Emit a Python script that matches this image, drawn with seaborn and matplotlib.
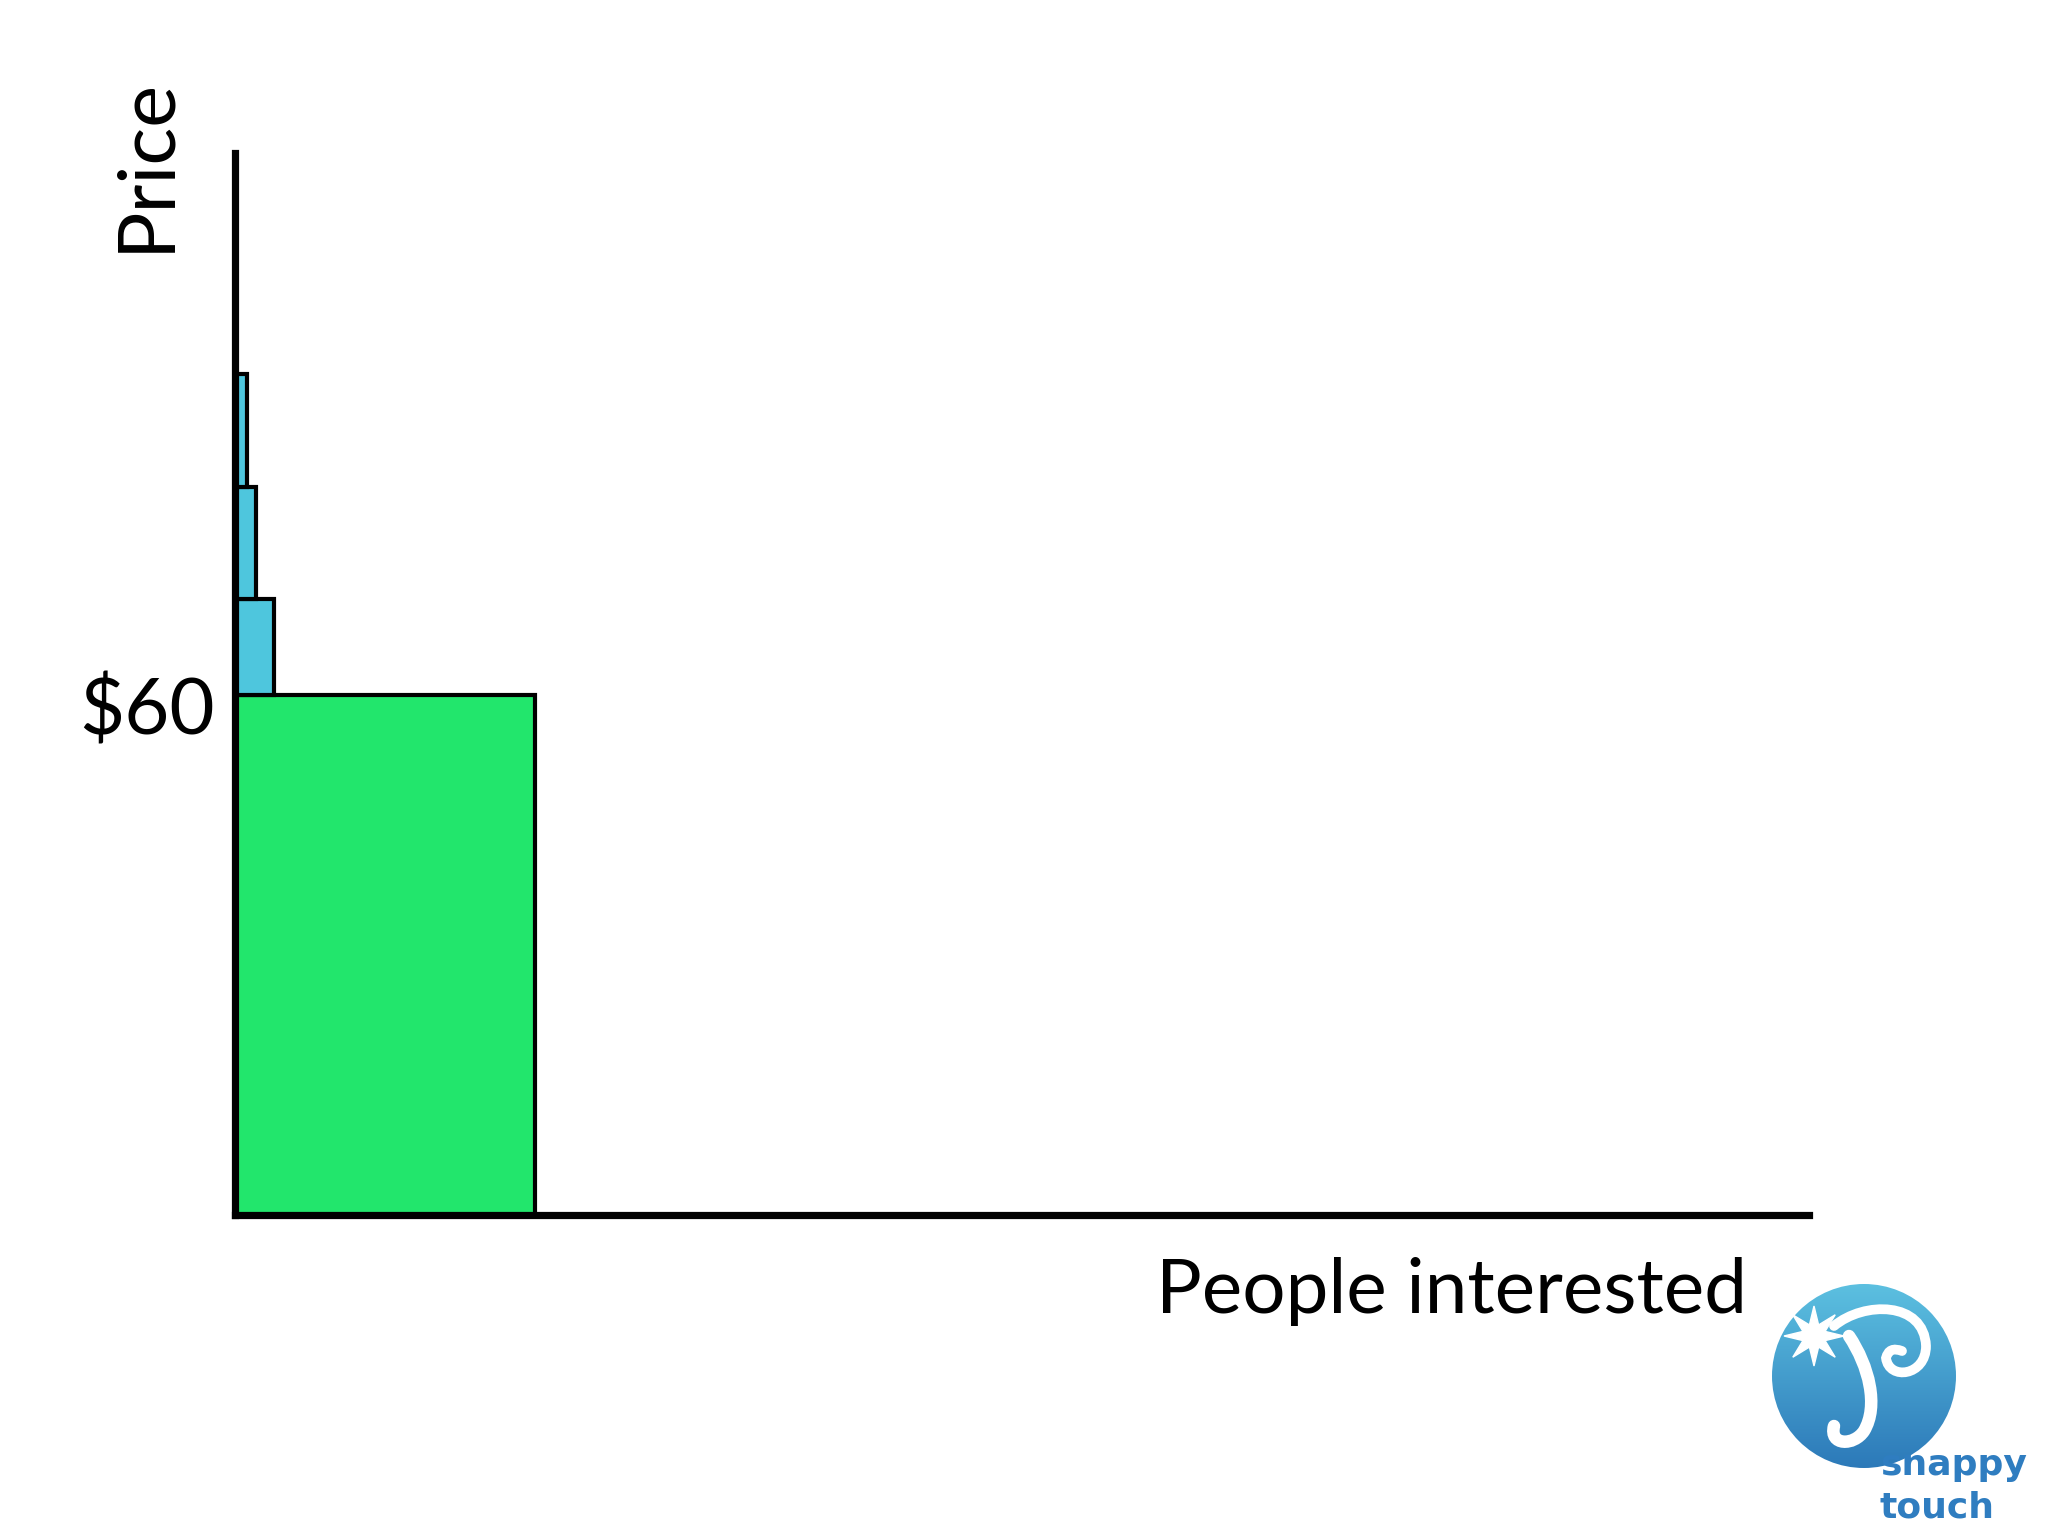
import numpy as np
import matplotlib
matplotlib.use("Agg")
import matplotlib.pyplot as plt
import seaborn as sns
from matplotlib.patches import Circle, Polygon, PathPatch
from matplotlib.path import Path

sns.set_theme(style="white")
plt.rcParams['font.family'] = ['Lato', 'DejaVu Sans']

# price bands (bottom/top) and how many people are interested in each
people = [100, 13, 7, 4]
price_low = [0, 60, 71, 84]
price_high = [60, 71, 84, 97]
band_colors = ['#22E66C', '#4EC6DD', '#4EC6DD', '#4EC6DD']
price_label = '$60'
price_label_value = 60

fig = plt.figure(figsize=(20.48, 15.36), dpi=100)
ax = fig.add_axes([0.1147, 0.2090, 0.7686, 0.6914])

heights = np.array(price_high) - np.array(price_low)
ax.bar(np.zeros(len(people)), heights, width=people, bottom=price_low,
       align='edge', color=band_colors, edgecolor='black', linewidth=3.0, zorder=2)

ax.set_xlim(0, 525)
ax.set_ylim(0, 122.5)
ax.set_xticks([])
ax.set_yticks([])
for side in ['top', 'right']:
    ax.spines[side].set_visible(False)
for side in ['left', 'bottom']:
    ax.spines[side].set_color('black')
    ax.spines[side].set_linewidth(5.2)
    ax.spines[side].set_zorder(3)

ax.text(-0.013, price_label_value - 2, price_label, transform=ax.get_yaxis_transform(),
        ha='right', va='center', fontsize=56, color='black')
fig.text(146 / 2048, 1 - 165 / 1536, 'Price', rotation=90, ha='center', va='center',
         fontsize=57, color='black')
fig.text(1747 / 2048, 1 - 1291 / 1536, 'People interested', ha='right', va='center',
         fontsize=55, color='black')

# snappy touch logo, bottom right
lax = fig.add_axes([1764 / 2048, 1 - 1476 / 1536, 200 / 2048, 200 / 1536])
lax.set_xlim(-1, 1)
lax.set_ylim(-1, 1)
lax.set_aspect('equal')
lax.axis('off')
grad = np.linspace(0, 1, 256).reshape(-1, 1)
cmap = matplotlib.colors.LinearSegmentedColormap.from_list('logo', ['#2A76B7', '#5EC3E2'])
img = lax.imshow(grad, extent=[-1, 1, -1, 1], origin='lower', cmap=cmap, aspect='auto')
img.set_clip_path(Circle((0, 0), 0.92, transform=lax.transData))
ang = np.linspace(0, 2 * np.pi, 17)[:-1]
rad = np.where(np.arange(16) % 2 == 0, 0.30, 0.12)
star = np.column_stack([-0.5 + rad * np.cos(ang), 0.4 + rad * np.sin(ang)])
lax.add_patch(Polygon(star, closed=True, color='white'))
# white wave through the logo
wave = Path([(-0.3, 0.5), (0.0, 0.75), (0.6, 0.75), (0.62, 0.3),
             (0.62, 0.0), (0.25, -0.05), (0.22, 0.18),
             (0.25, 0.3), (0.38, 0.25)],
            [Path.MOVETO, Path.CURVE4, Path.CURVE4, Path.CURVE4,
             Path.CURVE4, Path.CURVE4, Path.CURVE4, Path.CURVE3, Path.CURVE3])
lax.add_patch(PathPatch(wave, fill=False, edgecolor='white', lw=7, capstyle='round'))
tail = Path([(-0.15, 0.4), (0.05, 0.1), (0.15, -0.3), (0.0, -0.55),
             (-0.1, -0.7), (-0.35, -0.7), (-0.3, -0.5)],
            [Path.MOVETO, Path.CURVE4, Path.CURVE4, Path.CURVE4,
             Path.CURVE4, Path.CURVE4, Path.CURVE4])
lax.add_patch(PathPatch(tail, fill=False, edgecolor='white', lw=9, capstyle='round'))

fig.text(1880 / 2048, 1 - 1465 / 1536, 'snappy', ha='left', va='center',
         fontsize=26, fontweight='bold', color='#2F7DC0', family=['DejaVu Sans'])
fig.text(1880 / 2048, 1 - 1508 / 1536, 'touch', ha='left', va='center',
         fontsize=26, fontweight='bold', color='#2F7DC0', family=['DejaVu Sans'])

fig.savefig('out.png', dpi=100, facecolor='white')
